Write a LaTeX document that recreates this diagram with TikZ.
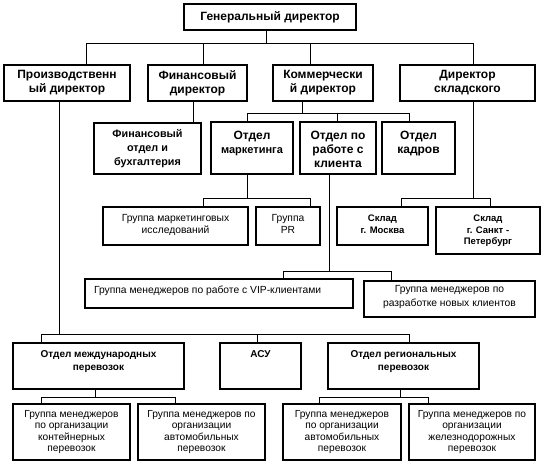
\documentclass[tikz,border=0pt]{standalone}
\usepackage{fontspec}
\setmainfont{Liberation Sans}
\usepackage{tikz}

\newcommand{\topcell}[3]{\vbox to #1{\vskip#2\hbox{\begin{tabular}{@{}c@{}}#3\end{tabular}}\vfill}}

\tikzset{
  box/.style={draw, line width=2pt, inner sep=0pt},
  head/.style={box, align=center, font=\bfseries\fontsize{12}{14}\selectfont},
  dept/.style={box, font=\bfseries\fontsize{12}{14}\selectfont},
  grp/.style={box, font=\fontsize{10.3}{11.5}\selectfont},
  store/.style={box, font=\bfseries\fontsize{9.5}{11.5}\selectfont},
  sub/.style={box, font=\bfseries\fontsize{10}{13}\selectfont},
  team/.style={box, align=center, font=\fontsize{10.2}{11.6}\selectfont},
  wire/.style={line width=0.8pt},
}

\begin{document}
\begin{tikzpicture}[x=1pt, y=-1pt]
\fill[white] (0,0) rectangle (542,469);
\useasboundingbox (0,0) rectangle (542,469);

% top
\node[head, minimum width=172pt, minimum height=26pt] (gen) at (270,17) {Генеральный директор};

% directors
\node[head, minimum width=126pt, minimum height=36pt] (prod) at (67,83) {Производственн\\ый директор};
\node[head, minimum width=99pt, minimum height=36pt] (fin) at (197.5,83) {Финансовый\\директор};
\node[head, minimum width=100pt, minimum height=36pt] (com) at (323,83) {Коммерчески\\й директор};
\node[head, minimum width=135pt, minimum height=36pt] (skl) at (467.5,83) {Директор\\складского};

% departments
\node[head, font=\bfseries\fontsize{10.8}{14}\selectfont, minimum width=107pt, minimum height=51pt] (finotd) at (147.5,148.5) {Финансовый\\отдел и\\бухгалтерия};
\node[dept, minimum width=82pt] (mark) at (252,148) {\topcell{52pt}{7.7pt}{Отдел\\{\fontsize{11}{14}\selectfont маркетинга}}};
\node[dept, minimum width=76pt] (kli) at (338,148) {\topcell{52pt}{7.7pt}{Отдел по\\работе с\\клиента}};
\node[dept, minimum width=73pt] (kadr) at (418.5,148) {\topcell{52pt}{7.7pt}{Отдел\\кадров}};

% groups and stores
\node[grp, minimum width=145pt] (mis) at (175.5,226) {\topcell{38pt}{6.5pt}{Группа маркетинговых\\исследований}};
\node[grp, minimum width=64pt] (pr) at (288,226) {\topcell{38pt}{6.5pt}{Группа\\PR}};
\node[store, minimum width=91pt] (msk) at (382.5,226) {\topcell{38pt}{6.5pt}{Склад\\г. Москва}};
\node[store, minimum width=104pt] (spb) at (488,230.5) {\topcell{47pt}{6.5pt}{Склад\\г. Санкт -\\Петербург}};

% clients
\node[grp, minimum width=268pt] (vip) at (219,293.5) {\topcell{29pt}{6.5pt}{\makebox[250pt][l]{Группа менеджеров по работе с VIP-клиентами}}};
\node[grp, font=\fontsize{10.3}{14}\selectfont, minimum width=171pt] (new) at (449.5,299) {\topcell{36pt}{1.7pt}{Группа менеджеров по\\разработке новых клиентов}};

% transport
\node[sub, minimum width=171pt] (mezh) at (98.5,366) {\topcell{46pt}{5.4pt}{Отдел международных\\перевозок}};
\node[sub, minimum width=81pt] (asu) at (260.5,366) {\topcell{46pt}{5.4pt}{АСУ}};
\node[sub, minimum width=151pt] (reg) at (403.5,366) {\topcell{46pt}{5.4pt}{Отдел региональных\\перевозок}};

\node[team, minimum width=117pt, minimum height=56pt] (cont) at (71.5,432) {Группа менеджеров\\по организации\\контейнерных\\перевозок};
\node[team, minimum width=127pt, minimum height=56pt] (avt1) at (201.5,432) {Группа менеджеров по\\организации\\автомобильных\\перевозок};
\node[team, minimum width=118pt, minimum height=56pt] (avt2) at (342,432) {Группа менеджеров\\по организации\\автомобильных\\перевозок};
\node[team, minimum width=126pt, minimum height=56pt] (jd) at (472,432) {Группа менеджеров по\\организации\\железнодорожных\\перевозок};

% bus points
\coordinate (t0) at (266,43);
\coordinate (t1) at (86,43);
\coordinate (t2) at (203,43);
\coordinate (t3) at (310,43);
\coordinate (t4) at (473,43);
\coordinate (f0) at (193,113);
\coordinate (c0) at (302,113);
\coordinate (c1) at (247,113);
\coordinate (c2) at (337,113);
\coordinate (c3) at (409,113);
\coordinate (m0) at (247,198);
\coordinate (m1) at (203,198);
\coordinate (m2) at (310,198);
\coordinate (s0) at (473,198);
\coordinate (s1) at (401,198);
\coordinate (s2) at (490,198);
\coordinate (k0) at (329,271);
\coordinate (k1) at (283,271);
\coordinate (k2) at (391,271);
\coordinate (p0) at (59,334);
\coordinate (p1) at (41,334);
\coordinate (p2) at (257,334);
\coordinate (p3) at (409,334);
\coordinate (z0) at (95,397);
\coordinate (z1) at (41,397);
\coordinate (z2) at (175,397);
\coordinate (r0) at (400,397);
\coordinate (r1) at (319,397);
\coordinate (r2) at (428,397);

% connectors
\foreach \a/\b/\n in {t0/t1/gen, c0/c1/com, m0/m1/mark, s0/s1/skl, k0/k1/kli, p0/p1/prod, z0/z1/mezh, r0/r1/reg}
{\draw[wire] (\a |- \n.south) -- (\a);}
\draw[wire] (t1) -- (t4);
\draw[wire] (c1) -- (c3);
\draw[wire] (m1) -- (m2);
\draw[wire] (s1) -- (s2);
\draw[wire] (k1) -- (k2);
\draw[wire] (p1) -- (p3);
\draw[wire] (z1) -- (z2);
\draw[wire] (r1) -- (r2);
\draw[wire] (f0 |- fin.south) -- (f0 |- finotd.north);
\foreach \p/\q in {t1/prod, t2/fin, t3/com, t4/skl, c1/mark, c2/kli, c3/kadr, m1/mis, m2/pr, s1/msk, s2/spb, k1/vip, k2/new, p1/mezh, p2/asu, p3/reg, z1/cont, z2/avt1, r1/avt2, r2/jd}
{\draw[wire] (\p) -- (\p |- \q.north);}

\end{tikzpicture}
\end{document}
